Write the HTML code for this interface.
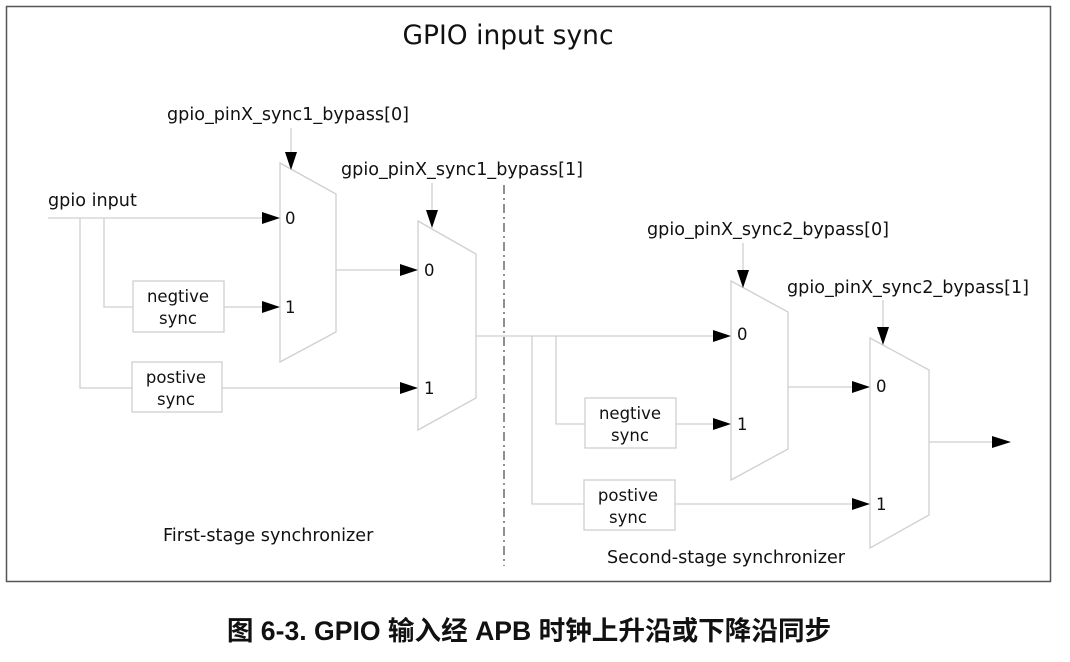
<!DOCTYPE html>
<html><head><meta charset="utf-8"><style>
html,body{margin:0;padding:0;background:#fff;width:1070px;height:662px;overflow:hidden}
svg{display:block}
text{font-family:"DejaVu Sans","Liberation Sans",sans-serif;fill:#111}
.w{stroke:#cfcfcf;stroke-width:1.3;fill:none}
.b{stroke:#cfcfcf;stroke-width:1.3;fill:#fff}
.lbl{font-size:16.5px}
.sig{font-size:17.6px}
</style></head><body>
<svg width="1070" height="662" viewBox="0 0 1070 662">
<rect x="6.5" y="6.5" width="1044" height="575" fill="#fff" stroke="#555" stroke-width="1.5"/>
<text x="508" y="44" font-size="26.5" text-anchor="middle">GPIO input sync</text>

<polygon class="b" points="280,163 336,194 336,332 280,362"/>
<polygon class="b" points="418,221 476,254 476,398 418,430"/>
<polygon class="b" points="731,281 788,312 788,449 731,480"/>
<polygon class="b" points="870,338 929,370 929,515 870,548"/>

<g class="w">
<path d="M48 218H264"/>
<path d="M80 218V388H132"/>
<path d="M104 218V307H133"/>
<path d="M224 307H264"/>
<path d="M222 388H402"/>
<path d="M336 270H402"/>
<path d="M291 128V152"/>
<path d="M432 183V210"/>
<path d="M476 336H715"/>
<path d="M532 336V504H584"/>
<path d="M556 336V424H585"/>
<path d="M676 424H715"/>
<path d="M675 504H854"/>
<path d="M788 387H854"/>
<path d="M929 442H994"/>
<path d="M743 243V270"/>
<path d="M883 300V327"/>
</g>
<line x1="504" y1="185" x2="504" y2="566" stroke="#555" stroke-width="1.3" stroke-dasharray="9,4,2,4"/>

<g fill="#000">
<polygon points="262,212 280,218 262,224"/>
<polygon points="262,301 280,307 262,313"/>
<polygon points="400,264 418,270 400,276"/>
<polygon points="400,382 418,388 400,394"/>
<polygon points="713,330 731,336 713,342"/>
<polygon points="713,418 731,424 713,430"/>
<polygon points="852,381 870,387 852,393"/>
<polygon points="852,498 870,504 852,510"/>
<polygon points="992,436 1011,442 992,448"/>
<polygon points="285,152 297,152 291,170"/>
<polygon points="426,210 438,210 432,228"/>
<polygon points="737,270 749,270 743,288"/>
<polygon points="877,327 889,327 883,345"/>
</g>

<rect class="b" x="133" y="281" width="91" height="51"/>
<rect class="b" x="132" y="362" width="90" height="50"/>
<rect class="b" x="585" y="398" width="91" height="50"/>
<rect class="b" x="584" y="480" width="91" height="50"/>
<g class="lbl" text-anchor="middle">
<text x="178" y="302">negtive</text><text x="178" y="324">sync</text>
<text x="176" y="383">postive</text><text x="176" y="405">sync</text>
<text x="630" y="419">negtive</text><text x="630" y="441">sync</text>
<text x="628" y="501">postive</text><text x="628" y="523">sync</text>
</g>

<g class="lbl">
<text x="285" y="224">0</text><text x="285" y="313">1</text>
<text x="424" y="276">0</text><text x="424" y="394">1</text>
<text x="737" y="340">0</text><text x="737" y="430">1</text>
<text x="876" y="392">0</text><text x="876" y="510">1</text>
</g>

<g class="sig">
<text x="48" y="206">gpio input</text>
<text x="288" y="120" text-anchor="middle">gpio_pinX_sync1_bypass[0]</text>
<text x="462" y="175" text-anchor="middle">gpio_pinX_sync1_bypass[1]</text>
<text x="768" y="235" text-anchor="middle">gpio_pinX_sync2_bypass[0]</text>
<text x="908" y="293" text-anchor="middle">gpio_pinX_sync2_bypass[1]</text>
<text x="163" y="541">First-stage synchronizer</text>
<text x="607" y="563">Second-stage synchronizer</text>
</g>

<text x="529" y="640" text-anchor="middle" font-size="26.6" font-weight="bold" style='font-family:"Liberation Sans","Noto Sans CJK SC",sans-serif'>图 6-3. GPIO 输入经 APB 时钟上升沿或下降沿同步</text>
</svg>
</body></html>
